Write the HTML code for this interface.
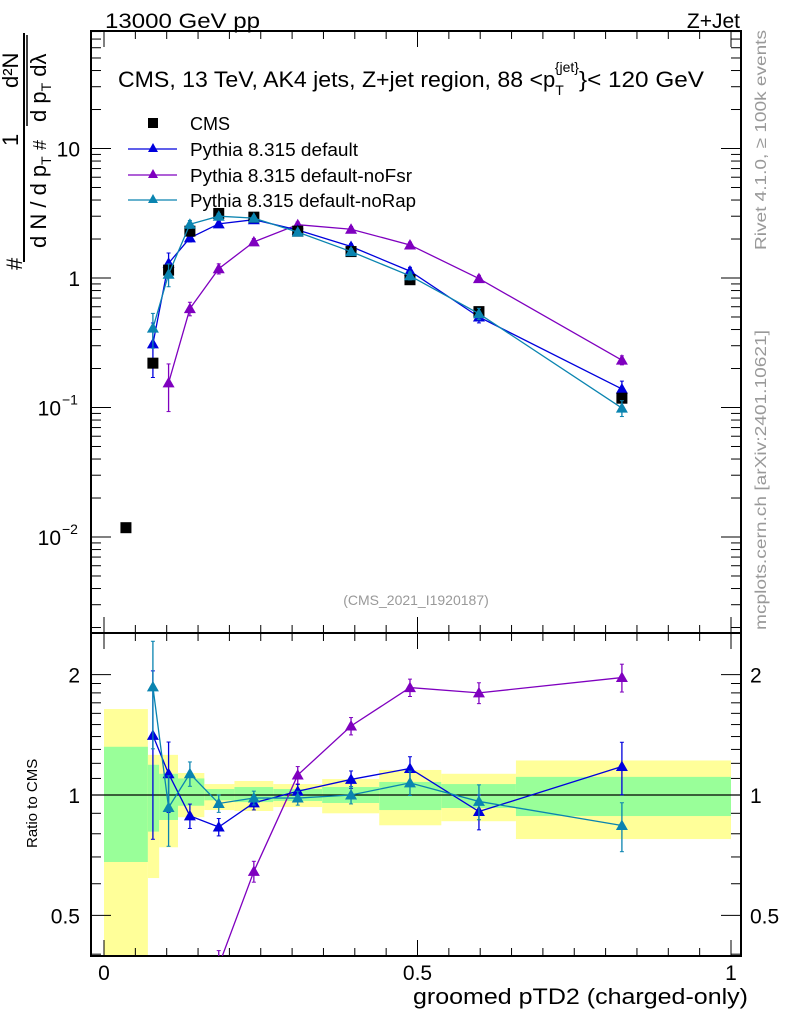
<!DOCTYPE html>
<html><head><meta charset="utf-8"><style>
html,body{margin:0;padding:0;background:#fff;overflow:hidden}
svg{display:block;font-family:"Liberation Sans",Arial,sans-serif}
</style></head><body>
<svg id="chart" width="786" height="1024" viewBox="0 0 786 1024">
<g id="bands"></g>
<g id="grid"></g>
<g id="series"></g>
<text x="105" y="28" font-size="21" textLength="155" lengthAdjust="spacingAndGlyphs">13000 GeV pp</text>
<text x="740" y="28" font-size="21" text-anchor="end">Z+Jet</text>
<text x="118" y="87" font-size="22"><tspan textLength="425" lengthAdjust="spacingAndGlyphs">CMS, 13 TeV, AK4 jets, Z+jet region, 88 &lt;</tspan><tspan>p</tspan><tspan font-size="14" dy="8">T</tspan><tspan font-size="14" dx="-9" dy="-23">{jet}</tspan><tspan dy="15" textLength="125" lengthAdjust="spacingAndGlyphs">}&lt; 120 GeV</tspan></text>
<text x="416" y="605" font-size="14" fill="#999" text-anchor="middle">(CMS_2021_I1920187)</text>
<text transform="translate(766,250) rotate(-90)" font-size="16" fill="#999" textLength="220" lengthAdjust="spacingAndGlyphs">Rivet 4.1.0, ≥ 100k events</text>
<text transform="translate(766,630) rotate(-90)" font-size="16" fill="#999" textLength="300" lengthAdjust="spacingAndGlyphs">mcplots.cern.ch [arXiv:2401.10621]</text>
<g font-size="22">
<text transform="translate(18,146) rotate(-90)">1</text>
<text transform="translate(22,270) rotate(-90)">#</text>
<line x1="24" y1="33" x2="24" y2="262" stroke="#000" stroke-width="2"/>
<text transform="translate(46,248) rotate(-90)">d N / d p<tspan font-size="14" dy="5">T</tspan></text>
<text transform="translate(46,150) rotate(-90)" font-size="18">#</text>
<text transform="translate(18,88) rotate(-90)">d²N</text>
<line x1="27" y1="35" x2="27" y2="126" stroke="#000" stroke-width="1.5"/>
<text transform="translate(46,122) rotate(-90)">d p<tspan font-size="14" dy="5">T</tspan><tspan dy="-5"> dλ</tspan></text>
</g>
<text transform="translate(37,848) rotate(-90)" font-size="15">Ratio to CMS</text>
<text x="748" y="1004" font-size="22" text-anchor="end" textLength="335" lengthAdjust="spacingAndGlyphs">groomed pTD2 (charged-only)</text>
<g font-size="18">
<rect x="148" y="118" width="10" height="10" fill="#000"/>
<text x="190" y="130">CMS</text>
<line x1="128" y1="149" x2="177" y2="149" stroke="#0000dd" stroke-width="1.3"/><path d="M153,143 L158,152 L148,152Z" fill="#0000dd"/>
<text x="190" y="156" textLength="168" lengthAdjust="spacingAndGlyphs">Pythia 8.315 default</text>
<line x1="128" y1="175" x2="177" y2="175" stroke="#7f00bf" stroke-width="1.3"/><path d="M153,169 L158,178 L148,178Z" fill="#7f00bf"/>
<text x="190" y="182" textLength="222" lengthAdjust="spacingAndGlyphs">Pythia 8.315 default-noFsr</text>
<line x1="128" y1="200" x2="177" y2="200" stroke="#0a84b0" stroke-width="1.3"/><path d="M153,194 L158,203 L148,203Z" fill="#0a84b0"/>
<text x="190" y="207" textLength="226" lengthAdjust="spacingAndGlyphs">Pythia 8.315 default-noRap</text>
</g>
</svg>
<script>
const xCenters=[0.035,0.078,0.103,0.137,0.183,0.239,0.309,0.394,0.488,0.598,0.826];
const binEdges=[0,0.07,0.088,0.118,0.16,0.208,0.27,0.348,0.439,0.538,0.657,1.0];
const cmsValues=[0.0118,0.22,1.15,2.3,3.15,2.95,2.3,1.6,0.97,0.55,0.118];
const yellowHi=[1.64,1.26,1.26,1.135,1.065,1.084,1.065,1.096,1.155,1.13,1.22];
const yellowLo=[0.3,0.62,0.74,0.88,0.917,0.912,0.933,0.90,0.84,0.86,0.776];
const greenHi=[1.32,1.19,1.13,1.10,1.035,1.047,1.035,1.047,1.078,1.065,1.11];
const greenLo=[0.68,0.81,0.866,0.94,0.97,0.96,0.966,0.955,0.917,0.928,0.886];
const defaultValues=[null,0.31,1.3,2.04,2.62,2.82,2.35,1.75,1.13,0.5,0.139];
const defaultErr=[0,0.45,0.2,0.07,0.05,0.04,0.04,0.05,0.07,0.1,0.15];
const noFsrValues=[null,null,0.155,0.58,1.18,1.9,2.58,2.38,1.8,0.99,0.232];
const noFsrErr=[0,0,0.4,0.12,0.09,0.06,0.05,0.05,0.05,0.06,0.08];
const noRapValues=[null,0.41,1.07,2.6,3.0,2.9,2.26,1.6,1.04,0.53,0.099];
const noRapErr=[0,0.3,0.2,0.07,0.05,0.04,0.04,0.05,0.07,0.1,0.14];
const xTicks=[0,0.5,1];const xTickLabels=["0","0.5","1"];
const ratioTicks=[0.5,1,2];const ratioTickLabels=["0.5","1","2"];

const L=91,R=741,T=31,M=633,B=956;
const X=v=>104+627*v;
const Y=v=>278-129.5*Math.log10(v);
const YR=v=>795-400*Math.log10(v);
const NS="http://www.w3.org/2000/svg";
function mk(p,tag,a){const e=document.createElementNS(NS,tag);for(const k in a)e.setAttribute(k,a[k]);p.appendChild(e);return e;}
const bands=document.getElementById('bands'),grid=document.getElementById('grid'),ser=document.getElementById('series');
const clampR=v=>Math.max(M,Math.min(B,v));
for(let i=0;i<xCenters.length;i++){
 const x0=X(binEdges[i]),x1=X(binEdges[i+1]);
 const y=mk(bands,'rect',{x:x0,y:clampR(YR(yellowHi[i])),width:x1-x0,height:clampR(YR(yellowLo[i]))-clampR(YR(yellowHi[i])),fill:'#ffff99'});
 
 
 const g=mk(bands,'rect',{x:x0,y:YR(greenHi[i]),width:x1-x0,height:YR(greenLo[i])-YR(greenHi[i]),fill:'#99ff99'});
 
 
}
mk(grid,'rect',{x:L,y:T,width:R-L,height:M-T,fill:'none',stroke:'#000','stroke-width':2});
mk(grid,'rect',{x:L,y:M,width:R-L,height:B-M,fill:'none',stroke:'#000','stroke-width':2});
mk(grid,'line',{x1:L,y1:YR(1),x2:R,y2:YR(1),stroke:'#000','stroke-width':1.3});
for(let k=0;k<=20;k++){const v=k*0.05,x=X(v),len=(k%10==0)?16:8;
 [[T,1],[M,-1],[M,1],[B,-1]].forEach(([y0,d])=>mk(grid,'line',{x1:x,y1:y0,x2:x,y2:y0+d*len,stroke:'#000','stroke-width':1}));}
xTicks.forEach((v,i)=>{const t=mk(grid,'text',{x:X(v),y:980,'font-size':21,'text-anchor':'middle'});t.textContent=xTickLabels[i];
 
 });
for(let d=-3;d<=1;d++)for(let m=1;m<=9;m++){const v=m*Math.pow(10,d),y=Y(v);if(y<T||y>M)continue;const len=m==1?20:10;
 mk(grid,'line',{x1:L,y1:y,x2:L+len,y2:y,stroke:'#000'});mk(grid,'line',{x1:R,y1:y,x2:R-len,y2:y,stroke:'#000'});}
[[10,"10"],[1,"1"]].forEach(([v,s])=>{const t=mk(grid,'text',{x:80,y:Y(v)+8,'font-size':21,'text-anchor':'end'});t.textContent=s;
 
 });
[[0.1,"−1"],[0.01,"−2"]].forEach(([v,s])=>{const t=mk(grid,'text',{x:61,y:Y(v)+8,'font-size':21,'text-anchor':'end'});t.textContent="10";
 
 
 const e=mk(grid,'text',{x:62,y:Y(v)-3,'font-size':14});e.textContent=s;});
[0.4,0.5,0.6,0.7,0.8,0.9,1,1.1,1.2,1.3,1.4,1.5,1.6,1.7,1.8,1.9,2].forEach(v=>{const y=YR(v);if(y<M||y>B)return;const len=ratioTicks.includes(v)?20:10;
 mk(grid,'line',{x1:L,y1:y,x2:L+len,y2:y,stroke:'#000'});mk(grid,'line',{x1:R,y1:y,x2:R-len,y2:y,stroke:'#000'});});
ratioTicks.forEach((v,i)=>{[[80,'end'],[750,'start']].forEach(([x,a])=>{const t=mk(grid,'text',{x:x,y:YR(v)+8,'font-size':21,'text-anchor':a});t.textContent=ratioTickLabels[i];
 
 });});
const defs=mk(document.getElementById('chart'),'defs',{});
const c1=mk(defs,'clipPath',{id:'cm'});mk(c1,'rect',{x:L,y:T,width:R-L,height:M-T});
const c2=mk(defs,'clipPath',{id:'cr'});mk(c2,'rect',{x:L,y:M,width:R-L,height:B-M});
const gm=mk(ser,'g',{'clip-path':'url(#cm)'}),gr=mk(ser,'g',{'clip-path':'url(#cr)'});
function tri(g,x,y,c){mk(g,'path',{d:`M${x},${y-6}L${x+6},${y+4.5}L${x-6},${y+4.5}Z`,fill:c});}
function drawSeries(vals,errs,color,name){
 const pm=[],pr=[];
 vals.forEach((v,i)=>{if(v==null)return;pm.push([X(xCenters[i]),Y(v)]);pr.push([X(xCenters[i]),YR(v/cmsValues[i])]);});
 const lm=mk(gm,'polyline',{points:pm.map(p=>p.join(',')).join(' '),fill:'none',stroke:color,'stroke-width':1.3});
 
 
 const lr=mk(gr,'polyline',{points:pr.map(p=>p.join(',')).join(' '),fill:'none',stroke:color,'stroke-width':1.3});
 
 
 vals.forEach((v,i)=>{if(v==null)return;const x=X(xCenters[i]),e=errs[i],r=v/cmsValues[i];
  [[gm,Y,v],[gr,YR,r]].forEach(([g,f,val])=>{const y1=f(val*(1+e)),y2=f(Math.max(val*(1-e),1e-4));
   mk(g,'line',{x1:x,y1:y1,x2:x,y2:y2,stroke:color,'stroke-width':1.3});
   mk(g,'line',{x1:x-2,y1:y1,x2:x+2,y2:y1,stroke:color});mk(g,'line',{x1:x-2,y1:y2,x2:x+2,y2:y2,stroke:color});
   tri(g,x,f(val),color);});});
}
drawSeries(noFsrValues,noFsrErr,'#7f00bf','nofsr');
drawSeries(defaultValues,defaultErr,'#0000dd','default');
cmsValues.forEach((v,i)=>{const r=mk(gm,'rect',{x:X(xCenters[i])-5.5,y:Y(v)-5.5,width:11,height:11,fill:'#000'});
 
 });
drawSeries(noRapValues,noRapErr,'#0a84b0','norap');
</script>
</body></html>
